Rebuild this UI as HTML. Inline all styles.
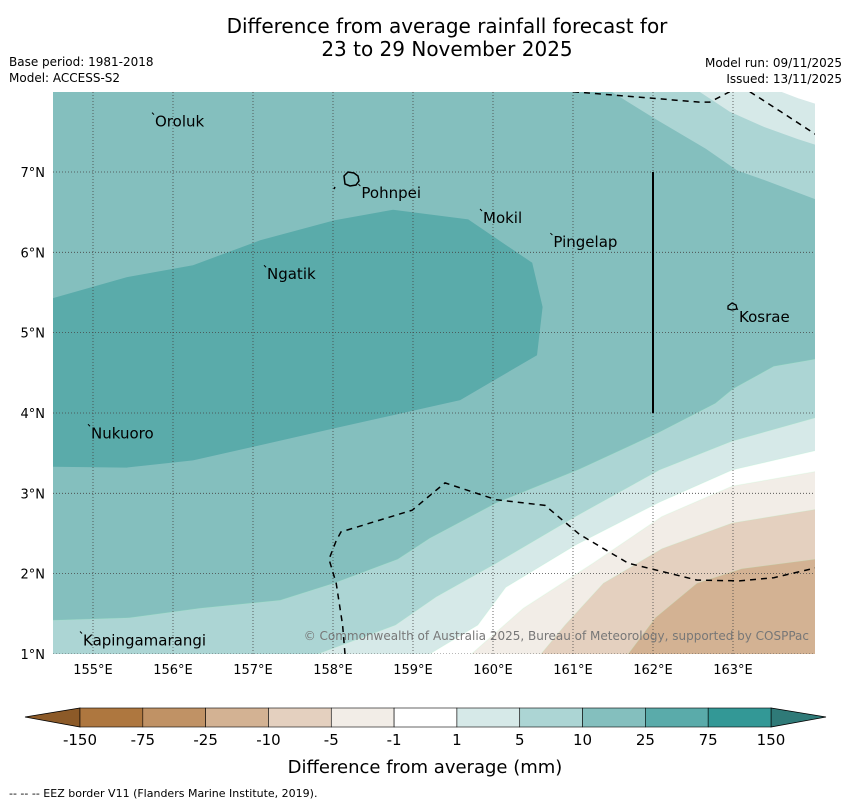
<!DOCTYPE html>
<html><head><meta charset="utf-8"><style>
body{margin:0;background:#fff;}
svg{display:block;font-family:"DejaVu Sans","Liberation Sans",sans-serif;}
</style></head><body>
<svg id="chart" width="850" height="804" viewBox="0 0 850 804" xmlns="http://www.w3.org/2000/svg">
<text x="447" y="33" font-size="20" text-anchor="middle">Difference from average rainfall forecast for</text>
<text x="447" y="56" font-size="20" text-anchor="middle">23 to 29 November 2025</text>
<text x="9" y="66" font-size="12">Base period: 1981-2018</text>
<text x="9" y="82" font-size="12">Model: ACCESS-S2</text>
<text x="842" y="67" font-size="12" text-anchor="end">Model run: 09/11/2025</text>
<text x="842" y="83" font-size="12" text-anchor="end">Issued: 13/11/2025</text>
<defs><clipPath id="pc"><rect x="53" y="92" width="762" height="562"/></clipPath></defs>
<g id="map" clip-path="url(#pc)"></g>
<g id="ov"></g>
<text x="809" y="640" font-size="12" fill="#777" text-anchor="end">© Commonwealth of Australia 2025, Bureau of Meteorology, supported by COSPPac</text>
<g id="cb"></g>
<text x="425" y="773" font-size="18" text-anchor="middle">Difference from average (mm)</text>
<text x="9" y="797" font-size="11">--  --  -- EEZ border V11 (Flanders Marine Institute, 2019).</text>
</svg>
<script>
const lonTicks=[155,156,157,158,159,160,161,162,163];
const latTicks=[1,2,3,4,5,6,7];
const cbLabels=["-150","-75","-25","-10","-5","-1","1","5","10","25","75","150"];
const cbColors=["#ae773f","#c09265","#d3b293","#e4d0bf","#f2ede7","#ffffff","#d6e9e8","#acd5d4","#84bfbe","#5aabaa","#339896"];
const darkZone=[[154.5,5.43],[155.42,5.69],[156.25,5.84],[157.09,6.15],[158.02,6.40],[158.75,6.53],[159.69,6.41],[160.49,5.87],[160.62,5.32],[160.55,4.72],[159.59,4.16],[158.02,3.81],[156.25,3.41],[155.42,3.32],[154.5,3.33]];
const bot10=[[154.5,1.42],[155.46,1.45],[156.34,1.57],[157.34,1.67],[158.01,1.88],[158.81,2.18],[159.21,2.44],[160.04,2.88],[161.08,3.30],[162.08,3.76],[162.78,4.12],[163.0,4.30],[163.51,4.58],[164.03,4.67]];
const bot5=[[157.81,1.0],[158.78,1.36],[159.29,1.71],[160.04,2.13],[161.03,2.71],[162.08,3.29],[162.99,3.65],[164.03,3.94]];
const bot1=[[159.21,1.0],[159.81,1.36],[160.16,1.83],[161.04,2.36],[162.08,2.89],[162.99,3.29],[164.03,3.53]];
const botm1=[[159.73,1.0],[160.38,1.57],[161.25,2.13],[162.11,2.71],[162.99,3.09],[164.03,3.27]];
const botm5=[[160.6,1.0],[160.9,1.36],[161.38,1.88],[162.11,2.31],[162.99,2.63],[164.03,2.80]];
const botm10=[[161.69,1.0],[162.03,1.45],[162.55,1.88],[163.11,2.06],[164.03,2.18]];
const top10=[[161.48,8.0],[162.03,7.66],[162.66,7.29],[163.05,7.02],[163.39,6.90],[164.03,6.66]];
const top5=[[162.58,8.0],[162.96,7.75],[163.39,7.56],[163.81,7.41],[164.03,7.34]];
const top1=[[163.6,8.0],[163.81,7.92],[164.03,7.85]];
const eezTopA=[[161.0,8.0],[161.48,7.96],[162.58,7.87],[162.71,7.87],[162.96,8.0]];
const eezTopB=[[163.21,8.0],[163.6,7.75],[164.03,7.47]];
const eezBot=[[158.15,1.0],[158.12,1.36],[158.04,1.88],[157.95,2.18],[158.04,2.41],[158.1,2.52],[158.99,2.79],[159.4,3.13],[160.04,2.92],[160.65,2.85],[161.08,2.49],[161.69,2.13],[162.55,1.92],[163.08,1.91],[163.51,1.95],[164.03,2.07]];
const islands=[["Oroluk",155.75,7.64],["Pohnpei",158.33,6.75],["Mokil",159.85,6.44],["Pingelap",160.73,6.14],["Ngatik",157.15,5.74],["Kosrae",163.05,5.21],["Nukuoro",154.95,3.76],["Kapingamarangi",154.85,1.18]];

const NS="http://www.w3.org/2000/svg";
const X=lon=>53+(lon-154.5)*80;
const Y=lat=>172+(7-lat)*80.33;
function mk(p,tag,at){const e=document.createElementNS(NS,tag);for(const k in at)e.setAttribute(k,at[k]);p.appendChild(e);return e;}
const pts=a=>a.map(p=>X(p[0]).toFixed(1)+","+Y(p[1]).toFixed(1)).join(" ");
const map=document.getElementById('map'),ov=document.getElementById('ov'),cb=document.getElementById('cb');
let e;
e=mk(map,'rect',{x:53,y:92,width:762,height:562,fill:"#84bfbe"});


e=mk(map,'polygon',{points:pts(darkZone),fill:"#5aabaa"});


const BR=[164.1,0.9],TR=[164.1,8.1];
const botLayers=[[bot10,"#acd5d4","zone-5-10-south"],[bot5,"#d6e9e8","zone-1-5-south"],[bot1,"#ffffff","zone-neutral"],[botm1,"#f2ede7","zone-minus1-minus5"],[botm5,"#e4d0bf","zone-minus5-minus10"],[botm10,"#d3b293","zone-minus10-minus25"]];
botLayers.forEach(l=>{const a=l[0].concat([[164.1,l[0][l[0].length-1][1]],BR,[l[0][0][0]-0.01,0.9]]);if(l[0][0][0]<=154.5)a.splice(a.length-1,1,[154.4,0.9],[154.4,l[0][0][1]]);
e=mk(map,'polygon',{points:pts(a),fill:l[1],stroke:"#9fb",'stroke-opacity':0.15});

});
const topLayers=[[top10,"#acd5d4","zone-5-10-north"],[top5,"#d6e9e8","zone-1-5-north"],[top1,"#ffffff","zone-neutral-north"]];
topLayers.forEach(l=>{const a=l[0].concat([[164.1,l[0][l[0].length-1][1]],TR,[l[0][0][0],8.1]]);
e=mk(map,'polygon',{points:pts(a),fill:l[1]});

});
lonTicks.forEach(v=>{e=mk(map,'line',{x1:X(v),x2:X(v),y1:92,y2:654,stroke:"#444",'stroke-width':0.8,'stroke-dasharray':"1,2"});


e=mk(ov,'text',{x:X(v),y:674,'font-size':13,'text-anchor':"middle"});e.textContent=v+"°E";

});
latTicks.forEach(v=>{e=mk(map,'line',{x1:53,x2:815,y1:Y(v),y2:Y(v),stroke:"#444",'stroke-width':0.8,'stroke-dasharray':"1,2"});


e=mk(ov,'text',{x:45,y:Y(v)+5,'font-size':13,'text-anchor':"end"});e.textContent=v+"°N";

});
[eezTopA,eezTopB,eezBot].forEach(a=>{e=mk(map,'polyline',{points:pts(a),fill:"none",stroke:"#000",'stroke-width':1.5,'stroke-dasharray':"6,5"});

});
e=mk(map,'line',{x1:X(162),x2:X(162),y1:Y(7),y2:Y(4),stroke:"#000",'stroke-width':2});


islands.forEach(s=>{const x=X(s[1]),y=Y(s[2]);
e=mk(ov,'text',{x:x+2,y:y+6,'font-size':15});e.textContent=s[0];


e=mk(ov,'line',{x1:x-1,y1:y-8,x2:x+1,y2:y-6,stroke:"#000",'stroke-width':1});

});
e=mk(ov,'path',{d:"M344,176 l4,-4 l6,1 l4,3 l1,5 l-3,4 l-6,1 l-5,-2 z M334,189 l1,-2",fill:"none",stroke:"#000",'stroke-width':1.5});


e=mk(ov,'path',{d:"M728,306 l4,-3 l4,2 l1,4 l-5,1 l-4,-1 z",fill:"none",stroke:"#000",'stroke-width':1.3});


// colorbar
const x0=80,x1=771,w=(x1-x0)/cbColors.length;
e=mk(cb,'polygon',{points:"25,717 80,708 80,727",fill:"#8c5a28",stroke:"#000",'stroke-width':0.8});


e=mk(cb,'polygon',{points:"826,717 771,708 771,727",fill:"#2f7a78",stroke:"#000",'stroke-width':0.8});


cbColors.forEach((c,i)=>{e=mk(cb,'rect',{x:x0+i*w,y:708,width:w,height:19,fill:c,stroke:"#000",'stroke-width':0.6});

});
cbLabels.forEach((t,i)=>{e=mk(cb,'text',{x:x0+i*w,y:745,'font-size':15,'text-anchor':"middle"});e.textContent=t;

});
</script>
</body></html>
